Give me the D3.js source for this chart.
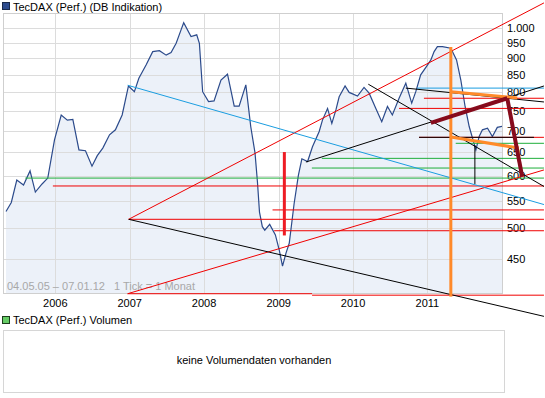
<!DOCTYPE html>
<html>
<head>
<meta charset="utf-8">
<script src="https://cdn.jsdelivr.net/npm/d3@7"></script>
<style>
  body { margin: 0; background: #fff; }
  svg text { font-family: "Liberation Sans", Arial, sans-serif; font-size: 11px; }
</style>
</head>
<body>
<div id="chart"></div>
<script>
// TecDAX (Perf.) price line.
var dates = ["2005-05-04","2005-05-30","2005-06-26","2005-07-29","2005-08-30","2005-09-25","2005-10-28","2005-11-25","2005-12-28",
  "2006-01-30","2006-03-01","2006-03-28","2006-04-27","2006-05-29","2006-06-30","2006-07-26","2006-08-22","2006-09-24","2006-10-23","2006-11-25","2006-12-26",
  "2007-01-24","2007-02-15","2007-03-23","2007-04-24","2007-05-27","2007-06-29","2007-07-23","2007-08-17","2007-09-10","2007-09-23","2007-10-29","2007-11-26","2007-12-09","2007-12-25",
  "2008-01-23","2008-02-19","2008-03-24","2008-04-25","2008-05-28","2008-06-21","2008-07-24","2008-08-17","2008-09-07","2008-09-19","2008-09-29","2008-10-13","2008-10-25","2008-11-18","2008-12-16",
  "2009-01-04","2009-01-20","2009-02-06","2009-02-22","2009-03-18","2009-04-08","2009-04-25","2009-05-23","2009-06-16","2009-07-19","2009-08-04","2009-08-29","2009-09-19","2009-10-09","2009-10-25","2009-11-23","2009-12-13",
  "2010-01-23","2010-02-24","2010-03-21","2010-04-23","2010-05-22","2010-06-19","2010-07-13","2010-08-15","2010-09-17","2010-10-16","2010-11-05","2010-11-29",
  "2011-01-02","2011-01-18","2011-02-03","2011-02-19","2011-03-16","2011-04-26","2011-05-24","2011-06-14","2011-07-05","2011-07-25","2011-08-27","2011-09-12","2011-09-28","2011-10-23","2011-11-16","2011-12-10","2012-01-07"];
var values = [530,547,591,581,610,567,583,595,679,
  740,727,729,656,654,620,643,660,691,703,740,818,
  802,840,880,921,924,910,918,948,993,1018,970,976,948,802,
  775,777,835,852,763,763,821,711,649,587,529,503,497,507,489,
  464,439,459,475,545,601,636,630,663,699,727,757,719,753,788,818,800,
  790,814,798,757,723,762,740,784,826,771,802,850,
  880,895,921,937,937,932,895,835,762,711,656,687,703,707,687,709,712];

// Axis ticks
var yTicks = [450,500,550,600,650,700,750,800,850,900,950,1000];
var yearTicks = ["2006","2007","2008","2009","2010","2011"];

// Drawn trend lines: [fromDate, fromValue, toDate, toValue]
var redLines = [
  ["2006-12-27",516,"2012-07-26",1090],
  ["2006-12-27",516,"2012-07-26",516],
  ["2006-12-22",399,"2012-07-26",612],
  ["2006-12-22",399,"2009-06-14",399],
  ["2009-06-14",397,"2012-07-26",397],
  ["2005-12-20",579,"2012-07-26",579],
  ["2008-12-02",533,"2012-07-26",533],
  ["2008-12-10",496,"2012-07-26",496],
  ["2010-12-15",784,"2012-07-26",784],
  ["2010-08-15",757,"2012-07-26",757],
  ["2010-11-21",685,"2012-07-26",685]
];
var redBars = [["2009-01-29",651,"2009-01-29",488]];
var greenLines = [
  ["2005-08-07",595,"2012-07-26",595],
  ["2009-06-13",616,"2012-07-26",616],
  ["2009-08-01",637,"2012-07-26",637],
  ["2011-05-20",671,"2012-07-26",671]
];
var blueLines = [
  ["2006-12-22",820,"2012-07-26",543],
  ["2010-11-11",812,"2012-07-26",812]
];
var blackLines = [
  ["2006-12-27",516,"2012-07-26",369],
  ["2009-05-15",629,"2012-07-26",818],
  ["2010-03-17",823,"2012-07-26",578],
  ["2010-09-17",812,"2012-07-26",774],
  ["2010-11-21",685,"2012-06-07",685],
  ["2011-08-22",667,"2011-08-22",583]
];
var orangeLines = [
  ["2011-04-26",936,"2011-04-26",395],
  ["2011-04-26",802,"2012-03-17",785],
  ["2011-04-26",686,"2012-03-25",660]
];
var maroonLines = [
  ["2011-01-18",720,"2012-01-28",784],
  ["2012-01-28",784,"2012-04-10",598]
];

var width = 545, height = 398;
var plot = { left: 3, right: 502, top: 13, bottom: 293 };

var parse = d3.timeParse("%Y-%m-%d");
var deFormat = d3.formatLocale({ decimal: ",", thousands: ".", grouping: [3], currency: ["", " €"] }).format(",");

var x = d3.scaleTime()
  .domain([parse("2005-05-04"), parse("2012-01-07")])
  .range([6, 503]);
var y = d3.scaleLog()
  .domain([400, 1052.6])
  .range([plot.bottom, plot.top]);

var svg = d3.select("#chart").append("svg")
  .attr("width", width)
  .attr("height", height);

// Legend top
svg.append("rect").attr("x", 2.5).attr("y", 2.5).attr("width", 7).attr("height", 7)
  .attr("fill", "#2d4c8e").attr("stroke", "#1a2a4a");
svg.append("text").attr("x", 13).attr("y", 10.5).attr("fill", "#000").text("TecDAX (Perf.) (DB Indikation)");

svg.append("defs").append("clipPath").attr("id", "plotclip")
  .append("rect")
  .attr("x", plot.left).attr("y", plot.top)
  .attr("width", plot.right - plot.left).attr("height", plot.bottom - plot.top);

// Gridlines
svg.append("g").selectAll("line.h").data(yTicks).enter().append("line")
  .attr("x1", plot.left).attr("x2", plot.right)
  .attr("y1", function(d) { return Math.round(y(d)) + 0.5; })
  .attr("y2", function(d) { return Math.round(y(d)) + 0.5; })
  .attr("stroke", "#dcdcdc").attr("shape-rendering", "crispEdges");

svg.append("g").selectAll("line.v").data(yearTicks).enter().append("line")
  .attr("x1", function(d) { return Math.round(x(parse(d + "-01-01"))) + 0.5; })
  .attr("x2", function(d) { return Math.round(x(parse(d + "-01-01"))) + 0.5; })
  .attr("y1", plot.top).attr("y2", plot.bottom)
  .attr("stroke", "#dcdcdc").attr("shape-rendering", "crispEdges");

// Area + line
var pts = dates.map(function(d, i) { return { date: parse(d), value: values[i] }; });

var area = d3.area()
  .x(function(d) { return x(d.date); })
  .y0(plot.bottom)
  .y1(function(d) { return y(d.value); });
var line = d3.line()
  .x(function(d) { return x(d.date); })
  .y(function(d) { return y(d.value); });

var g = svg.append("g").attr("clip-path", "url(#plotclip)");
g.append("path").datum(pts).attr("d", area).attr("fill", "#e9eef8").attr("fill-opacity", 0.85);

// redraw gridlines lightly over the fill so they show through
g.append("g").selectAll("line").data(yTicks).enter().append("line")
  .attr("x1", plot.left).attr("x2", plot.right)
  .attr("y1", function(d) { return Math.round(y(d)) + 0.5; })
  .attr("y2", function(d) { return Math.round(y(d)) + 0.5; })
  .attr("stroke", "#dcdcdc").attr("shape-rendering", "crispEdges");
g.append("g").selectAll("line").data(yearTicks).enter().append("line")
  .attr("x1", function(d) { return Math.round(x(parse(d + "-01-01"))) + 0.5; })
  .attr("x2", function(d) { return Math.round(x(parse(d + "-01-01"))) + 0.5; })
  .attr("y1", plot.top).attr("y2", plot.bottom)
  .attr("stroke", "#dcdcdc").attr("shape-rendering", "crispEdges");

g.append("path").datum(pts).attr("d", line)
  .attr("fill", "none").attr("stroke", "#2b4a8b").attr("stroke-width", 1.2);

// Plot border
svg.append("rect")
  .attr("x", plot.left + 0.5).attr("y", plot.top + 0.5)
  .attr("width", plot.right - plot.left).attr("height", plot.bottom - plot.top)
  .attr("fill", "none").attr("stroke", "#cfcfcf").attr("shape-rendering", "crispEdges");

// Axis labels
svg.append("g").selectAll("text").data(yTicks).enter().append("text")
  .attr("x", 507).attr("y", function(d) { return y(d) + 4; })
  .attr("fill", "#000")
  .text(function(d) { return deFormat(d); });

svg.append("g").selectAll("text").data(yearTicks).enter().append("text")
  .attr("x", function(d) { return x(parse(d + "-01-01")); })
  .attr("y", 307)
  .attr("text-anchor", "middle")
  .attr("fill", "#000")
  .text(function(d) { return d; });

svg.append("text").attr("x", 7).attr("y", 290).attr("fill", "#a8a8a8").text("04.05.05 \u2013 07.01.12");
svg.append("text").attr("x", 114).attr("y", 290).attr("fill", "#a8a8a8").text("1 Tick = 1 Monat");

// Trend lines
function drawLines(data, color, w) {
  svg.append("g").selectAll("line").data(data).enter().append("line")
    .attr("x1", function(d) { return x(parse(d[0])); })
    .attr("y1", function(d) { return y(d[1]); })
    .attr("x2", function(d) { return x(parse(d[2])); })
    .attr("y2", function(d) { return y(d[3]); })
    .attr("stroke", color)
    .attr("stroke-width", w);
}
drawLines(greenLines, "#1fae3a", 1);
drawLines(redLines, "#f00000", 1);
drawLines(blueLines, "#1a9de0", 1);
drawLines(blackLines, "#000", 1);
drawLines(redBars, "#ee1c24", 3);
drawLines(orangeLines, "#ff8a2a", 3);
drawLines(maroonLines, "#860b1c", 4);

// Volume panel
svg.append("rect").attr("x", 2.5).attr("y", 316.5).attr("width", 7).attr("height", 7)
  .attr("fill", "#66cc66").attr("stroke", "#1d3d1d");
svg.append("text").attr("x", 13).attr("y", 324).attr("fill", "#000").text("TecDAX (Perf.) Volumen");
svg.append("rect").attr("x", 3.5).attr("y", 330.5).attr("width", 501).attr("height", 62)
  .attr("fill", "#fff").attr("stroke", "#d6d6d6").attr("shape-rendering", "crispEdges");
svg.append("text").attr("x", 254).attr("y", 364).attr("text-anchor", "middle")
  .attr("fill", "#000").text("keine Volumendaten vorhanden");
</script>
</body>
</html>
